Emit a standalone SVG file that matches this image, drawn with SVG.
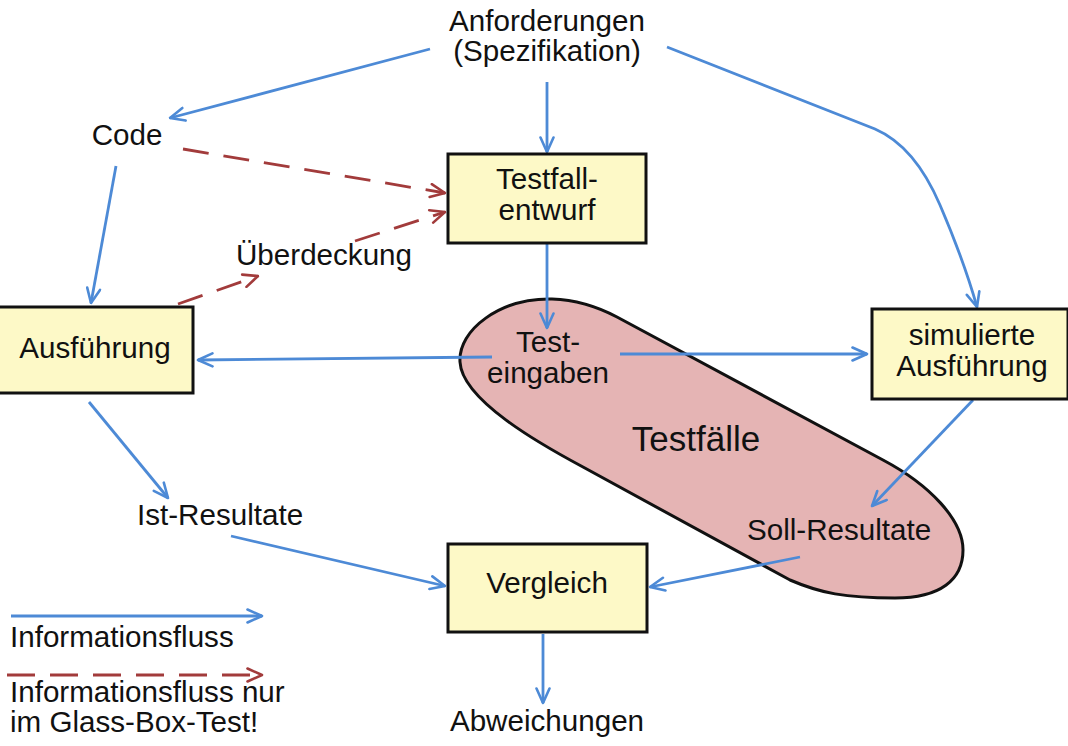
<svg xmlns="http://www.w3.org/2000/svg" width="1068" height="746" viewBox="0 0 1068 746">
<defs>
<style>
text{font-family:"Liberation Sans",Arial,Helvetica,sans-serif;font-size:29.6px;fill:#111}
.mid{text-anchor:middle}
.box{fill:#fdf9c7;stroke:#111;stroke-width:3}
.blob{fill:#e5b4b4;stroke:#111;stroke-width:3}
.flow{fill:none;stroke:#4d8ad6;stroke-width:2.8;marker-end:url(#ab)}
.glass{fill:none;stroke:#a23b3b;stroke-width:2.8;stroke-dasharray:26 15;marker-end:url(#ar)}
</style>
<marker id="ab" viewBox="0 0 18 16" markerWidth="18" markerHeight="16" refX="16.5" refY="8" orient="auto" markerUnits="userSpaceOnUse">
<path d="M2,1.5 L16.5,8 L2,14.5" fill="none" stroke="#4d8ad6" stroke-width="2.6" stroke-linecap="round" stroke-linejoin="round"/>
</marker>
<marker id="ar" viewBox="0 0 18 16" markerWidth="18" markerHeight="16" refX="16.5" refY="8" orient="auto" markerUnits="userSpaceOnUse">
<path d="M2,1.5 L16.5,8 L2,14.5" fill="none" stroke="#a23b3b" stroke-width="2.6" stroke-linecap="round" stroke-linejoin="round"/>
</marker>
</defs>
<rect width="1068" height="746" fill="#fff"/>

<g id="testfaelle">
<path class="blob" d="M460,362 C458,330 500,298 552,299 C580,300 600,308 617,317 L883,460 C930,485 963,520 963,550 C963,580 940,598 895,598 C845,598 820,593 790,580 L583,467 C540,444 462,400 460,362 Z"/>
<text x="696" y="451" class="mid" style="font-size:35px">Testfälle</text>
</g>

<g id="connectors">
<line class="flow" x1="430" y1="49" x2="170" y2="118"/>
<line class="flow" x1="547" y1="82" x2="547" y2="152"/>
<path class="flow" d="M667,47 L875,129 C905,142 925,170 940,205 C955,240 968,275 977,307"/>
<line class="flow" x1="116" y1="166" x2="91" y2="303"/>
<line class="glass" x1="183" y1="149" x2="445" y2="193"/>
<line class="glass" x1="355" y1="241" x2="445" y2="212"/>
<line class="glass" x1="178" y1="304" x2="258" y2="276"/>
<line class="flow" x1="547" y1="244" x2="547" y2="328"/>
<line class="flow" x1="492" y1="357" x2="198" y2="360"/>
<line class="flow" x1="620" y1="354" x2="867" y2="354"/>
<line class="flow" x1="89" y1="402" x2="168" y2="498"/>
<line class="flow" x1="231" y1="536" x2="445" y2="586"/>
<line class="flow" x1="973" y1="400" x2="872" y2="506"/>
<line class="flow" x1="800" y1="557" x2="650" y2="587"/>
<line class="flow" x1="543" y1="634" x2="543" y2="703"/>
</g>

<g id="anforderungen">
<text x="547" y="31" class="mid">Anforderungen</text>
<text x="547" y="61" class="mid">(Spezifikation)</text>
</g>
<g id="code"><text x="127" y="145" class="mid">Code</text></g>
<g id="testfallentwurf">
<rect class="box" x="448" y="154" width="198" height="89"/>
<text x="547" y="189" class="mid">Testfall-</text>
<text x="547" y="220" class="mid">entwurf</text>
</g>
<g id="ueberdeckung"><text x="236" y="265">Überdeckung</text></g>
<g id="ausfuehrung">
<rect class="box" x="-3" y="307" width="196" height="86"/>
<text x="95" y="358" class="mid">Ausführung</text>
</g>
<g id="testeingaben">
<text x="548" y="352" class="mid">Test-</text>
<text x="548" y="383" class="mid">eingaben</text>
</g>
<g id="simuliert">
<rect class="box" x="872" y="309" width="196" height="90"/>
<text x="972" y="345" class="mid">simulierte</text>
<text x="972" y="376" class="mid">Ausführung</text>
</g>
<g id="istresultate"><text x="137" y="525">Ist-Resultate</text></g>
<g id="sollresultate"><text x="747" y="540">Soll-Resultate</text></g>
<g id="vergleich">
<rect class="box" x="448" y="544" width="199" height="88"/>
<text x="547" y="593" class="mid">Vergleich</text>
</g>
<g id="abweichungen"><text x="547" y="731" class="mid">Abweichungen</text></g>

<g id="legend">
<line class="flow" x1="11" y1="616" x2="262" y2="616"/>
<text x="10" y="647">Informationsfluss</text>
<line class="glass" x1="7" y1="675" x2="262" y2="675" style="stroke-dasharray:28 15"/>
<text x="10" y="702">Informationsfluss nur</text>
<text x="10" y="732">im Glass-Box-Test!</text>
</g>
</svg>
